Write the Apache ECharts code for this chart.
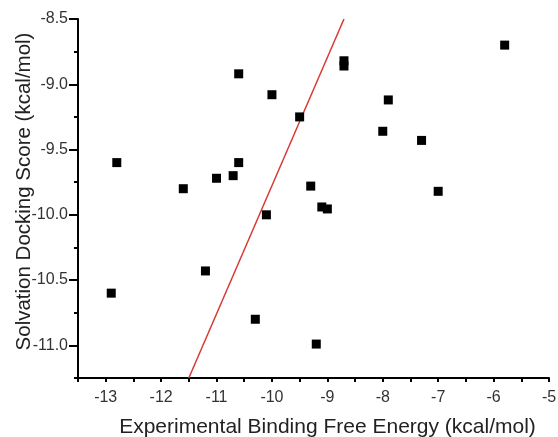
<!DOCTYPE html>
<html>
<head>
<meta charset="utf-8">
<script src="https://cdn.jsdelivr.net/npm/echarts@6/dist/echarts.min.js"></script>
<style>
    html, body { margin: 0; padding: 0; background: #fff; }
    #chart { width: 558px; height: 437px; }
</style>
</head>
<body>
<div id="chart"></div>
<script>
// experimental binding free energy (x) vs solvation docking score (y)
var expEnergy = [-12.8, -11.6, -11.0, -10.7, -10.6, -10.6, -10.0, -10.1, -8.7, -8.7, -9.5, -5.8,
    -7.9, -8.0, -7.3, -9.3, -9.1, -9.0, -7.0, -12.9, -11.2, -10.3, -9.2];
var dockScore = [-9.6, -9.8, -9.72, -9.7, -9.6, -8.92, -9.08, -10.0, -8.82, -8.86, -9.25, -8.7,
    -9.12, -9.36, -9.43, -9.78, -9.94, -9.955, -9.82, -10.6, -10.43, -10.8, -10.99];

// red fit line end points
var fitX = [-11.5, -8.7];
var fitY = [-11.25, -8.5];

var xTicks = [-13, -12, -11, -10, -9, -8, -7, -6, -5];
var yTicks = [-8.5, -9.0, -9.5, -10.0, -10.5, -11.0];
var yMinorTicks = [-8.75, -9.25, -9.75, -10.25, -10.75, -11.25];

var font = 'Liberation Sans, Arial, sans-serif';

var chart = echarts.init(document.getElementById('chart'));
var option = {
    animation: false,
    grid: { left: 78, right: 9, top: 19, bottom: 59, containLabel: false, outerBoundsMode: 'none' },
    xAxis: {
        type: 'value',
        min: -13.5,
        max: -5,
        interval: 0.5,
        name: 'Experimental Binding Free Energy (kcal/mol)',
        nameLocation: 'middle',
        nameGap: 39,
        nameMoveOverlap: false,
        nameTextStyle: { fontFamily: font, fontSize: 21, color: '#222', padding: [0, 0, 0, 28] },
        axisLine: { show: true, onZero: false, lineStyle: { color: '#000', width: 2 } },
        axisTick: { show: true, length: 4, lineStyle: { color: '#000', width: 2 } },
        axisLabel: {
            customValues: xTicks,
            margin: 12,
            fontFamily: font,
            fontSize: 16,
            color: '#333'
        },
        splitLine: { show: false }
    },
    yAxis: [
        {
            type: 'value',
            min: -11.25,
            max: -8.5,
            name: 'Solvation Docking Score (kcal/mol)',
            nameLocation: 'middle',
            nameGap: 43,
            nameMoveOverlap: false,
            nameTextStyle: { fontFamily: font, fontSize: 20.5, color: '#222', padding: [0, 0, 0, 14] },
            axisLine: { show: true, onZero: false, lineStyle: { color: '#000', width: 2 } },
            axisTick: { show: true, customValues: yTicks, length: 9, lineStyle: { color: '#000', width: 2 } },
            axisLabel: {
                customValues: yTicks,
                margin: 10,
                fontFamily: font,
                fontSize: 16,
                color: '#333',
                formatter: function (v) { return v.toFixed(1); }
            },
            splitLine: { show: false }
        },
        {
            type: 'value',
            position: 'left',
            min: -11.25,
            max: -8.5,
            axisLine: { show: false },
            axisTick: { show: true, customValues: yMinorTicks, length: 4, lineStyle: { color: '#000', width: 2 } },
            axisLabel: { show: false },
            splitLine: { show: false }
        }
    ],
    series: [
        {
            type: 'line',
            data: fitX.map(function (x, i) { return [x, fitY[i]]; }),
            symbol: 'none',
            lineStyle: { color: '#d83a33', width: 1.5 },
            z: 1
        },
        {
            type: 'scatter',
            data: expEnergy.map(function (x, i) { return [x, dockScore[i]]; }),
            symbol: 'rect',
            symbolSize: 9,
            itemStyle: { color: '#000', opacity: 1 },
            z: 2
        }
    ]
};
chart.setOption(option);
</script>
</body>
</html>
